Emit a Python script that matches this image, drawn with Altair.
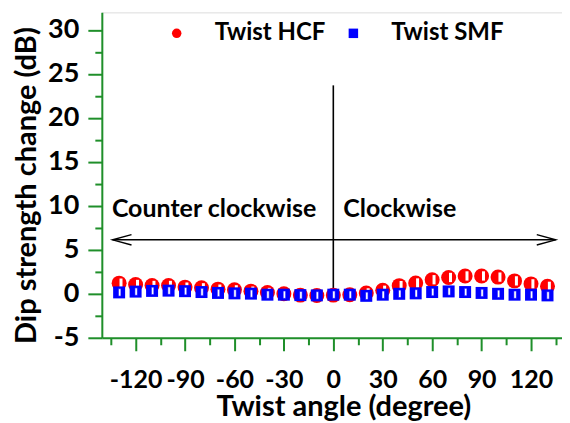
import altair as alt
import pandas as pd

# ---- data ----
angles = [-130, -120, -110, -100, -90, -80, -70, -60, -50, -40, -30, -20, -10, 0,
          10, 20, 30, 40, 50, 60, 70, 80, 90, 100, 110, 120, 130]
hcf = [1.21, 1.06, 0.95, 0.95, 0.76, 0.68, 0.53, 0.45, 0.30, 0.15, 0.0, -0.15, -0.2, -0.15,
       -0.1, 0.1, 0.4, 0.93, 1.23, 1.6, 1.86, 2.03, 2.03, 1.9, 1.47, 1.13, 0.85]
smf = [0.16, 0.25, 0.33, 0.36, 0.3, 0.2, 0.1, 0.05, 0.02, -0.1, -0.1, -0.15, -0.18, -0.1,
       -0.1, -0.23, -0.1, 0.0, 0.05, 0.2, 0.27, 0.2, 0.1, 0.0, -0.1, -0.1, -0.18]
series_names = ["Twist HCF", "Twist SMF"]
x_major_ticks = [-120, -90, -60, -30, 0, 30, 60, 90, 120]
x_minor_ticks = [-135, -105, -75, -45, -15, 15, 45, 75, 105, 135]
y_major_ticks = [-5, 0, 5, 10, 15, 20, 25, 30]
y_minor_ticks = [-2.5, 2.5, 7.5, 12.5, 17.5, 22.5, 27.5]

# annotations
arrow_y = [6.14]
arrow_x = [-134, 135]
divider_x = [0]
divider_y = [0, 23.7]
label_texts = ["Counter clockwise", "Clockwise"]
label_x = [-134.4, 6]
label_y = [8.74, 8.74]

# ---- tables ----
df_hcf = pd.DataFrame({"angle": angles, "value": hcf, "series": series_names[0]})
df_smf = pd.DataFrame({"angle": angles, "value": smf, "series": series_names[1]})
df_arrow = pd.DataFrame({"x1": [arrow_x[0]], "x2": [arrow_x[1]], "y": arrow_y})
df_heads = pd.DataFrame({"x": arrow_x, "y": arrow_y * 2, "side": ["left", "right"]})
df_div = pd.DataFrame({"x": divider_x, "y1": [divider_y[0]], "y2": [divider_y[1]]})
df_lab = pd.DataFrame({"text": label_texts, "x": label_x, "y": label_y})

green = "#1f8f2a"
FONT = "Lato"
xscale = alt.Scale(domain=[-140.5, 138.8], nice=False, zero=False)
yscale = alt.Scale(domain=[-5, 32], nice=False, zero=False)

axis_common = dict(grid=False, domainColor=green, domainWidth=2, tickColor=green,
                   tickWidth=2, labelFont=FONT, labelFontWeight="bold",
                   labelColor="black", titleFont=FONT, titleFontWeight="bold",
                   titleColor="black", labelOverlap=False,
                   labelFlush=False, labelBound=False,
                   labelExpr="'' + datum.value")

x_major = alt.Axis(values=x_major_ticks, title="Twist angle (degree)", tickSize=13,
                   labelFontSize=25, titleFontSize=29, titleX=242,
                   labelPadding=17, titlePadding=0, orient="bottom", **axis_common)
x_minor = alt.Axis(values=x_minor_ticks, labels=False, title=None, tickSize=7,
                   domain=False, orient="bottom", grid=False, tickColor=green, tickWidth=2)
y_major = alt.Axis(values=y_major_ticks, title="Dip strength change (dB)", tickSize=14,
                   labelFontSize=27, titleFontSize=29, titleY=173,
                   labelPadding=9, titlePadding=6, orient="left", **axis_common)
y_minor = alt.Axis(values=y_minor_ticks, labels=False, title=None, tickSize=7,
                   domain=False, orient="left", grid=False, tickColor=green, tickWidth=2)

color = alt.Color("series:N", scale=alt.Scale(domain=series_names, range=["#ff0000", "#0000ff"]),
                  legend=alt.Legend(title=None, orient="none", direction="horizontal",
                                    legendX=63, legendY=9, labelFont=FONT,
                                    labelFontWeight="bold", labelFontSize=24,
                                    labelColor="black", symbolSize=90, labelOffset=26,
                                    columnPadding=16, symbolStrokeWidth=0))
shape = alt.Shape("series:N", scale=alt.Scale(domain=series_names, range=["circle", "square"]),
                  legend=None)

# minor tick axes
minor = alt.Chart(df_hcf).mark_point(opacity=0).encode(
    x=alt.X("angle:Q", scale=xscale, axis=x_minor),
    y=alt.Y("value:Q", scale=yscale, axis=y_minor),
)

divider = alt.Chart(df_div).mark_rule(color="black", strokeWidth=1.6).encode(
    x=alt.X("x:Q", scale=xscale, axis=None),
    y=alt.Y("y1:Q", scale=yscale, axis=None),
    y2="y2:Q",
)

arrow = alt.Chart(df_arrow).mark_rule(color="black", strokeWidth=1.4).encode(
    x=alt.X("x1:Q", scale=xscale, axis=None),
    x2="x2:Q",
    y=alt.Y("y:Q", scale=yscale, axis=None),
)
left_head = alt.Chart(df_heads[df_heads.side == "left"]).mark_point(
    shape="M2,-0.55L0,0L2,0.55", filled=False, stroke="black", strokeWidth=1.4,
    size=361, opacity=1).encode(
    x=alt.X("x:Q", scale=xscale, axis=None),
    y=alt.Y("y:Q", scale=yscale, axis=None),
)
right_head = alt.Chart(df_heads[df_heads.side == "right"]).mark_point(
    shape="M-2,-0.55L0,0L-2,0.55", filled=False, stroke="black", strokeWidth=1.4,
    size=361, opacity=1).encode(
    x=alt.X("x:Q", scale=xscale, axis=None),
    y=alt.Y("y:Q", scale=yscale, axis=None),
)

labels = alt.Chart(df_lab).mark_text(font=FONT, fontWeight="bold", fontSize=25,
                                     align="left", baseline="alphabetic",
                                     color="black").encode(
    x=alt.X("x:Q", scale=xscale, axis=None),
    y=alt.Y("y:Q", scale=yscale, axis=None),
    text="text:N",
)

circles = alt.Chart(df_hcf).mark_point(filled=True, size=225, opacity=1).encode(
    x=alt.X("angle:Q", scale=xscale, axis=x_major),
    y=alt.Y("value:Q", scale=yscale, axis=y_major),
    color=color, shape=shape,
)
circle_bars = alt.Chart(df_hcf).mark_point(
    shape="M0.05,-0.62L0.45,-0.62L0.45,0.62L0.05,0.62Z", filled=True, color="white",
    size=225, opacity=1).encode(
    x=alt.X("angle:Q", scale=xscale, axis=None),
    y=alt.Y("value:Q", scale=yscale, axis=None),
)
squares = alt.Chart(df_smf).mark_point(filled=True, size=144, opacity=1).encode(
    x=alt.X("angle:Q", scale=xscale, axis=None),
    y=alt.Y("value:Q", scale=yscale, axis=None),
    color=color, shape=shape,
)
square_bars = alt.Chart(df_smf).mark_point(
    shape="M-0.12,-0.62L0.3,-0.62L0.3,0.62L-0.12,0.62Z", filled=True, color="white",
    size=144, opacity=1, stroke="#0000ff", strokeWidth=0.6).encode(
    x=alt.X("angle:Q", scale=xscale, axis=None),
    y=alt.Y("value:Q", scale=yscale, axis=None),
)

chart = alt.layer(
    minor, divider, arrow, left_head, right_head, labels,
    circles, circle_bars, squares, square_bars,
).resolve_axis(x="independent", y="independent").resolve_scale(
    x="shared", y="shared"
).properties(
    width=461, height=326,
    autosize=alt.AutoSizeParams(type="none"),
    padding={"left": 94, "top": 4, "right": 0, "bottom": 85},
).configure_view(stroke=green, strokeWidth=2).configure(background="white")

chart.save("out.html", embed_options={"renderer": "svg", "actions": False})
